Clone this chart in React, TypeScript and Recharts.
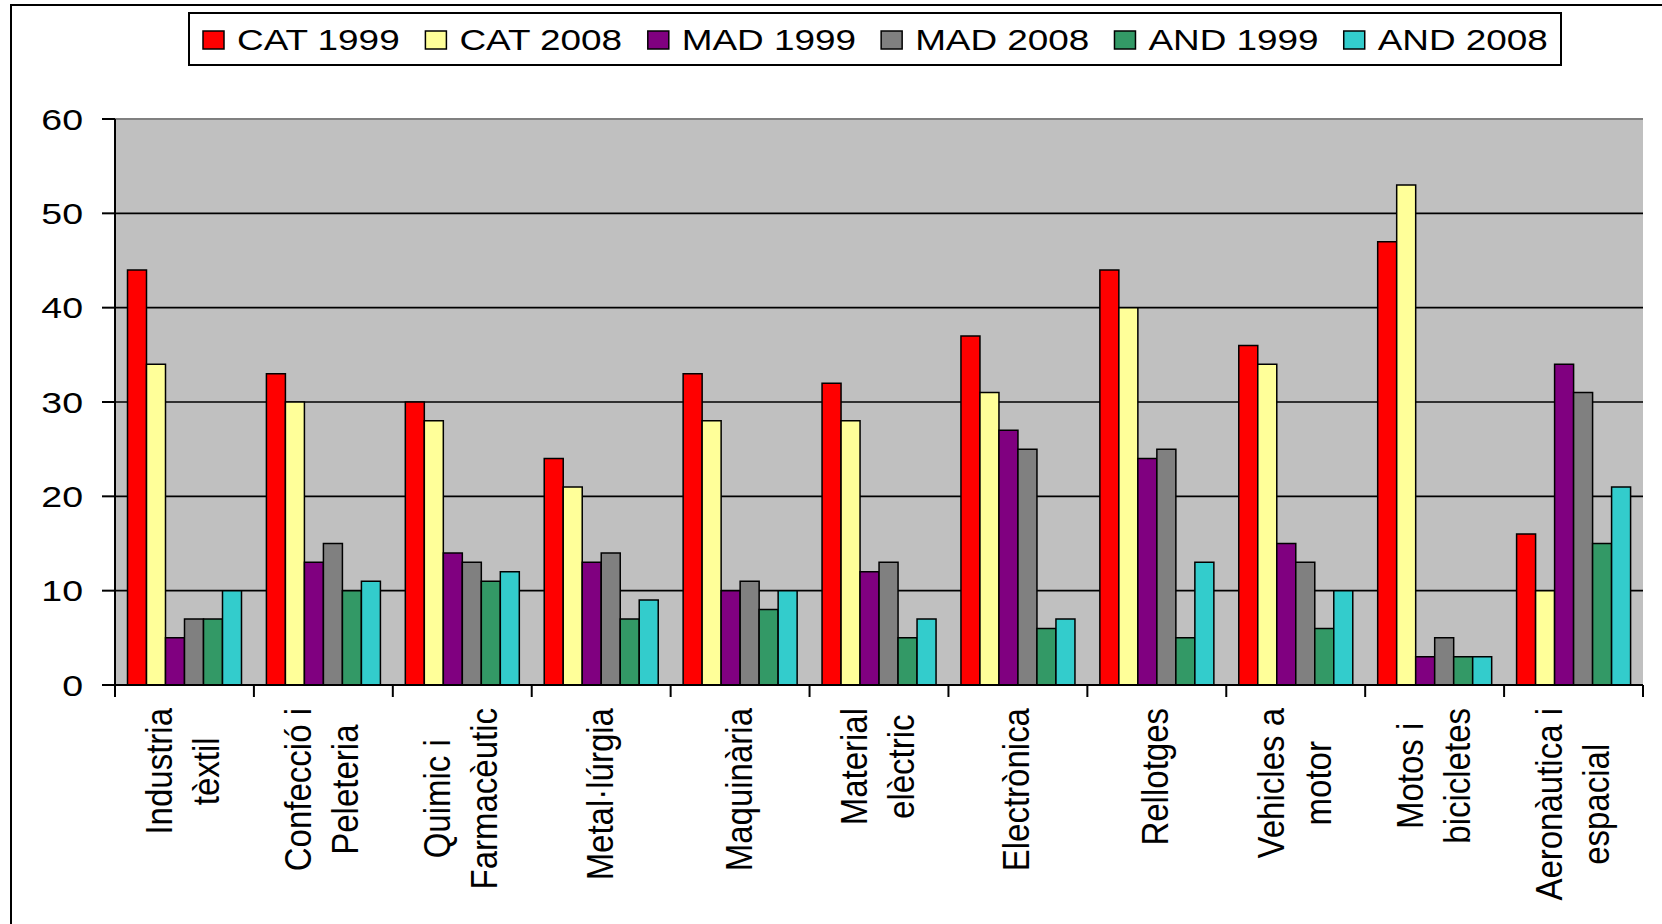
import React from "react";
import { BarChart, Bar, XAxis, YAxis, CartesianGrid, ReferenceLine, Legend } from "recharts";

// categories (line breaks as in the original axis labels)
const categories = [
  "Industria\ntèxtil",
  "Confecció i\nPeleteria",
  "Quimic i\nFarmacèutic",
  "Metal·lúrgia",
  "Maquinària",
  "Material\nelèctric",
  "Electrònica",
  "Rellotges",
  "Vehicles a\nmotor",
  "Motos i\nbicicletes",
  "Aeronàutica i\nespacial",
];

const cat1999 = [44, 33, 30, 24, 33, 32, 37, 44, 36, 47, 16];
const cat2008 = [34, 30, 28, 21, 28, 28, 31, 40, 34, 53, 10];
const mad1999 = [5, 13, 14, 13, 10, 12, 27, 24, 15, 3, 34];
const mad2008 = [7, 15, 13, 14, 11, 13, 25, 25, 13, 5, 31];
const and1999 = [7, 10, 11, 7, 8, 5, 6, 5, 6, 3, 15];
const and2008 = [10, 11, 12, 9, 10, 7, 7, 13, 10, 3, 21];

const yTicks = [0, 10, 20, 30, 40, 50, 60];

const series = [
  { key: "cat1999", name: "CAT 1999", color: "#FF0000", values: cat1999 },
  { key: "cat2008", name: "CAT 2008", color: "#FFFF99", values: cat2008 },
  { key: "mad1999", name: "MAD 1999", color: "#800080", values: mad1999 },
  { key: "mad2008", name: "MAD 2008", color: "#808080", values: mad2008 },
  { key: "and1999", name: "AND 1999", color: "#339966", values: and1999 },
  { key: "and2008", name: "AND 2008", color: "#33CCCC", values: and2008 },
];

const data = categories.map((c, i) => {
  const row: Record<string, string | number> = { category: c };
  series.forEach((s) => (row[s.key] = s.values[i]));
  return row;
});

// layout
const W = 1662;
const H = 924;
const Y_AXIS_W = 115;
const MARGIN = { top: 119, right: 19, left: 0, bottom: 0 };
const X_AXIS_H = 239;
const BAND = (W - Y_AXIS_W - MARGIN.left - MARGIN.right) / categories.length;
const FONT = "'Liberation Sans', Arial, sans-serif";

// the source picture is stretched sideways, so text is widened a bit
const LEGEND_SIZE = 30;
const LEGEND_SX = 1.23;
const YT_SIZE = 30;
const YT_SX = 1.25;
const XL_SIZE = 33;
const XL_SX = 1.14;

let ctx: CanvasRenderingContext2D | null = null;
function measure(text: string, size: number) {
  if (!ctx && typeof document !== "undefined") {
    ctx = document.createElement("canvas").getContext("2d");
  }
  if (!ctx) return text.length * size * 0.55;
  ctx.font = `${size}px 'Liberation Sans', Arial, sans-serif`;
  return ctx.measureText(text).width;
}

function LegendBox() {
  let cx = 15;
  const items = series.map((s) => {
    const w = measure(s.name, LEGEND_SIZE) * LEGEND_SX;
    const it = { s, x: cx };
    cx += 34 + w + 25;
    return it;
  });
  return (
    <svg width={1374} height={54} style={{ display: "block" }}>
      <rect x={1} y={1} width={1372} height={52} fill="#fff" stroke="#000" strokeWidth={2} />
      {items.map(({ s, x }) => (
        <g key={s.key}>
          <rect x={x} y={19} width={21} height={18} fill={s.color} stroke="#000" strokeWidth={1.5} />
          <text
            transform={`translate(${x + 34},${38}) scale(${LEGEND_SX},1)`}
            fontSize={LEGEND_SIZE}
            fontFamily={FONT}
            fill="#000"
          >
            {s.name}
          </text>
        </g>
      ))}
    </svg>
  );
}

function ValueTick(props: any) {
  const { x, y, payload } = props;
  return (
    <text
      transform={`translate(${x},${y}) scale(${YT_SX},1)`}
      textAnchor="end"
      dy="0.36em"
      fontSize={YT_SIZE}
      fontFamily={FONT}
      fill="#000"
    >
      {payload.value}
    </text>
  );
}

function CategoryTick(props: any) {
  const { x, y, payload, index } = props;
  const lines = String(payload.value).split("\n");
  const n = lines.length;
  const left = x - BAND / 2;
  const right = x + BAND / 2;
  // lines are centred on each other, block hangs from just under the axis
  const longest = Math.max(...lines.map((l) => measure(l, XL_SIZE)));
  const mid = y + 23 + longest / 2;
  return (
    <g>
      <line x1={left} x2={left} y1={y} y2={y + 12} stroke="#000" strokeWidth={2} />
      {index === categories.length - 1 && (
        <line x1={right} x2={right} y1={y} y2={y + 12} stroke="#000" strokeWidth={2} />
      )}
      {lines.map((line, i) => (
        <text
          key={i}
          transform={`translate(${x + 11.5 + (i - (n - 1) / 2) * 47},${mid}) scale(${XL_SX},1) rotate(-90)`}
          textAnchor="middle"
          fontSize={XL_SIZE}
          fontFamily={FONT}
          fill="#000"
        >
          {line}
        </text>
      ))}
    </g>
  );
}

export default function App() {
  return (
    <div
      style={{
        position: "absolute",
        left: 0,
        top: 0,
        width: W,
        height: H,
        overflow: "hidden",
        background: "#fff",
      }}
    >
      <div
        style={{
          position: "absolute",
          left: 10,
          top: 4,
          width: 1800,
          height: 1100,
          border: "2px solid #000",
        }}
      />
      <BarChart
        width={W}
        height={H}
        data={data}
        margin={MARGIN}
        barCategoryGap="9%"
        barGap={0}
      >
        <CartesianGrid
          vertical={false}
          stroke="#000"
          strokeWidth={1.6}
          fill="#C0C0C0"
          fillOpacity={1}
          yAxisId="left"
        />
        <XAxis
          dataKey="category"
          interval={0}
          height={X_AXIS_H}
          tickLine={false}
          tickSize={0}
          tickMargin={0}
          axisLine={{ stroke: "#000", strokeWidth: 2 }}
          tick={<CategoryTick />}
        />
        <YAxis
          yAxisId="left"
          domain={[0, 60]}
          ticks={yTicks}
          width={Y_AXIS_W}
          tickSize={13}
          tickMargin={19}
          axisLine={{ stroke: "#000", strokeWidth: 2 }}
          tickLine={{ stroke: "#000", strokeWidth: 2 }}
          tick={<ValueTick />}
        />
        <YAxis
          yAxisId="right"
          orientation="right"
          domain={[0, 60]}
          ticks={yTicks}
          width={0}
          tick={false}
          tickLine={false}
          axisLine={{ stroke: "#808080", strokeWidth: 2 }}
        />
        <ReferenceLine yAxisId="left" y={60} stroke="#808080" strokeWidth={2} />
        {series.map((s) => (
          <Bar
            key={s.key}
            yAxisId="left"
            dataKey={s.key}
            name={s.name}
            fill={s.color}
            stroke="#000"
            strokeWidth={1.5}
            isAnimationActive={false}
          />
        ))}
        <Legend
          layout="horizontal"
          verticalAlign="middle"
          align="center"
          wrapperStyle={{ position: "absolute", top: 12, left: 188, width: 1374, height: 54 }}
          content={() => <LegendBox />}
        />
      </BarChart>
    </div>
  );
}
